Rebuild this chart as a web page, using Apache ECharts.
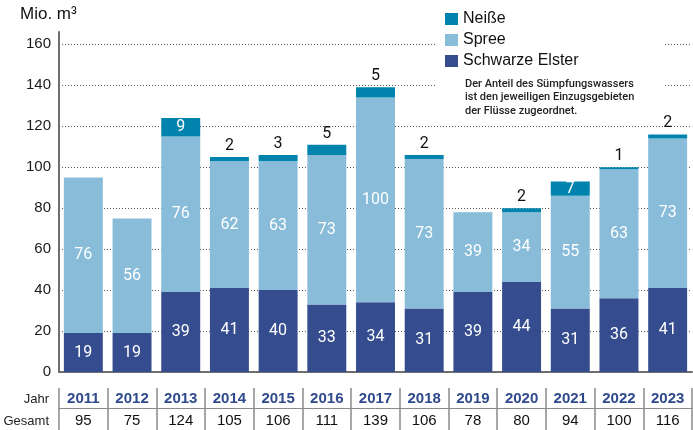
<!DOCTYPE html>
<html>
<head>
<meta charset="utf-8">
<script src="https://cdn.jsdelivr.net/npm/echarts@6/dist/echarts.min.js"></script>
<style>
  html, body { margin: 0; padding: 0; background: #fff; }
  #chart { width: 693px; height: 430px; }
</style>
</head>
<body>
<div id="chart"></div>
<script>
// Sümpfungswasser je Flussgebiet (Mio. m³)
var years = ['2011', '2012', '2013', '2014', '2015', '2016', '2017', '2018', '2019', '2020', '2021', '2022', '2023'];
var schwarzeElster = [19, 19, 39, 41, 40, 33, 34, 31, 39, 44, 31, 36, 41];
var spree = [76, 56, 76, 62, 63, 73, 100, 73, 39, 34, 55, 63, 73];
var neisse = [null, null, 9, 2, 3, 5, 5, 2, null, 2, 7, 1, 2];
var gesamt = [95, 75, 124, 105, 106, 111, 139, 106, 78, 80, 94, 100, 116];

var colElster = '#354d8f';
var colSpree = '#88bcd9';
var colNeisse = '#0083ad';
var baseFont = '"Liberation Sans", Arial, sans-serif';
var barFont = 'Roboto, sans-serif';

var chart = echarts.init(document.getElementById('chart'));

// small Neiße values get their label above the bar
var neisseData = neisse.map(function (v) {
    if (v === null) return '-';
    if (v >= 7) return { value: v };
    return {
        value: v,
        label: { position: 'top', distance: 3, color: '#111' }
    };
});

var insideLabel = {
    show: true,
    position: 'inside',
    color: '#fff',
    fontSize: 16,
    fontFamily: barFont
};

chart.setOption({
    animation: false,
    backgroundColor: '#fff',
    grid: { left: 59, right: 1, top: 32, bottom: 58, containLabel: false },
    legend: {
        data: ['Neiße', 'Spree', 'Schwarze Elster'],
        orient: 'vertical',
        left: 445,
        top: 11,
        itemWidth: 13,
        itemHeight: 12,
        itemGap: 5,
        icon: 'rect',
        padding: 0,
        z: 10,
        textStyle: { fontSize: 16, fontFamily: baseFont, color: '#111', lineHeight: 16 }
    },
    xAxis: [
        {
            type: 'category',
            data: years,
            axisLine: { lineStyle: { color: '#6e6e6e', width: 2 } },
            axisTick: { show: false },
            axisLabel: {
                interval: 0,
                margin: 16,
                formatter: function (value, index) {
                    return '{y|' + value + '}\n{g|' + gesamt[index] + '}';
                },
                rich: {
                    y: { fontSize: 15, fontWeight: 'bold', color: '#2f4a8c', fontFamily: baseFont, lineHeight: 22 },
                    g: { fontSize: 15, color: '#111', fontFamily: baseFont, lineHeight: 22 }
                }
            }
        },
        {
            // table column separators
            type: 'category',
            data: years,
            position: 'bottom',
            offset: 16,
            axisLine: { show: false },
            axisTick: { show: true, interval: 0, length: 42, lineStyle: { color: '#8a8a8a', width: 1.5 } },
            axisLabel: { show: false }
        },
        {
            // line between Jahr and Gesamt rows
            type: 'category',
            data: years,
            position: 'bottom',
            offset: 36,
            axisLine: { show: true, lineStyle: { color: '#8a8a8a', width: 1 } },
            axisTick: { show: false },
            axisLabel: { show: false }
        }
    ],
    yAxis: {
        type: 'value',
        min: 0,
        max: 166,
        interval: 20,
        axisLine: { show: true, lineStyle: { color: '#6e6e6e', width: 2 } },
        axisTick: { show: false },
        axisLabel: {
            showMaxLabel: false,
            margin: 8,
            fontSize: 15,
            color: '#1a1a1a',
            fontFamily: baseFont
        },
        splitLine: {
            show: true,
            showMinLine: false,
            showMaxLine: false,
            lineStyle: { color: '#555', type: [1, 2], width: 1 }
        }
    },
    series: [
        {
            name: 'Schwarze Elster',
            type: 'bar',
            stack: 'total',
            barWidth: '80%',
            data: schwarzeElster,
            itemStyle: { color: colElster },
            label: insideLabel
        },
        {
            name: 'Spree',
            type: 'bar',
            stack: 'total',
            barWidth: '80%',
            data: spree,
            itemStyle: { color: colSpree },
            label: insideLabel
        },
        {
            name: 'Neiße',
            type: 'bar',
            stack: 'total',
            barWidth: '80%',
            data: neisseData,
            itemStyle: { color: colNeisse },
            label: insideLabel
        }
    ],
    graphic: [
        {
            type: 'rect',
            z: 5,
            silent: true,
            shape: { x: 437, y: 0, width: 226, height: 118 },
            style: { fill: '#fff' }
        },
        {
            type: 'text',
            z: 6,
            x: 465,
            y: 77,
            style: {
                text: 'Der Anteil des Sümpfungswassers\nist den jeweiligen Einzugsgebieten\nder Flüsse zugeordnet.',
                fontSize: 11,
                fontWeight: 500,
                fontFamily: barFont,
                lineHeight: 13.5,
                fill: '#222'
            }
        },
        {
            type: 'text',
            x: 20,
            y: 6,
            style: { text: 'Mio. m³', fontSize: 17, fontFamily: baseFont, fill: '#111' }
        },
        {
            type: 'text',
            x: 49,
            y: 399,
            style: { text: 'Jahr', fontSize: 13, fontFamily: baseFont, fill: '#222', align: 'right', verticalAlign: 'middle' }
        },
        {
            type: 'text',
            x: 49,
            y: 421,
            style: { text: 'Gesamt', fontSize: 13, fontFamily: baseFont, fill: '#222', align: 'right', verticalAlign: 'middle' }
        }
    ]
});
</script>
</body>
</html>
